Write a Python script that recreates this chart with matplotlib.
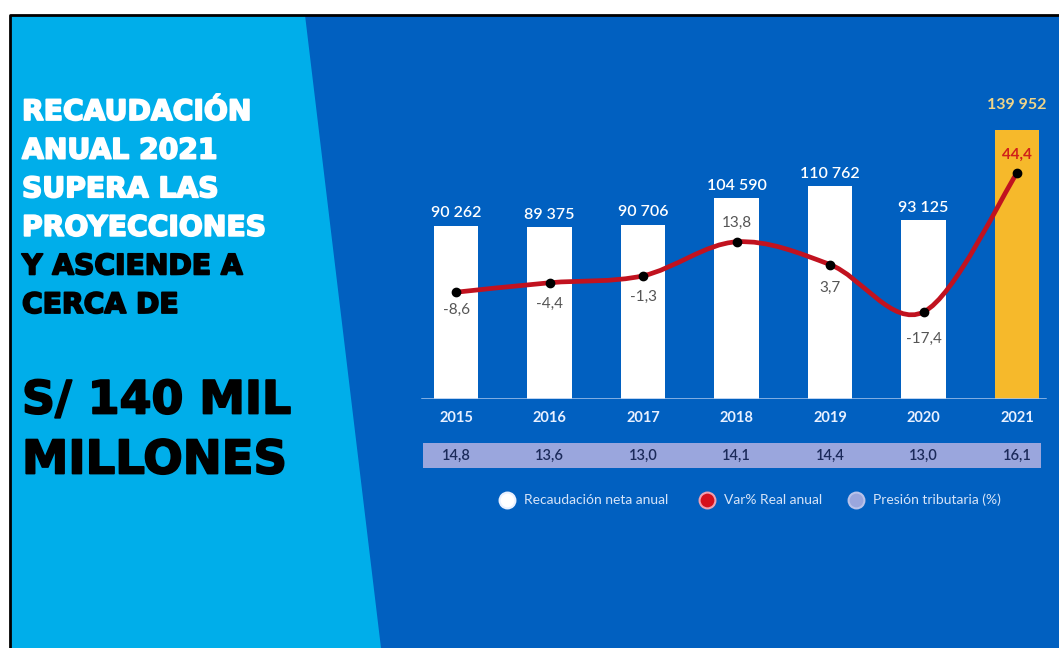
import numpy as np
import matplotlib
matplotlib.use('Agg')
import matplotlib.pyplot as plt
from matplotlib.patches import Polygon, Rectangle, PathPatch
from matplotlib.path import Path
import matplotlib.patheffects as pe
import matplotlib.transforms as mtransforms

# data
years = ['2015', '2016', '2017', '2018', '2019', '2020', '2021']
recaudacion = [90262, 89375, 90706, 104590, 110762, 93125, 139952]
var_real = [-8.6, -4.4, -1.3, 13.8, 3.7, -17.4, 44.4]
presion = [14.8, 13.6, 13.0, 14.1, 14.4, 13.0, 16.1]
legend_labels = ['Recaudación neta anual', 'Var% Real anual', 'Presión tributaria (%)']

def fmt_miles(v):
    return '{:,}'.format(v).replace(',', ' ')

def fmt_dec(v):
    return ('%.1f' % v).replace('.', ',')

DARK = '#0160c0'
LIGHT = '#00aeea'
YELLOW = '#f6b92b'
BAND = '#9aa6dd'
RED = '#c1121f'
FONT = 'Lato'
HEAD = 'DejaVu Sans'

W, H = 1059, 648
fig = plt.figure(figsize=(W / 100, H / 100), dpi=100)
fig.patch.set_facecolor('white')

# background layer in pixel coords (y down)
bg = fig.add_axes([0, 0, 1, 1], zorder=0)
bg.set_xlim(0, W)
bg.set_ylim(H, 0)
bg.axis('off')
bg.add_patch(Rectangle((10, 15), W, H, facecolor=DARK, edgecolor='none'))
bg.add_patch(Polygon([(10, 15), (305, 15), (381, H), (10, H)], closed=True,
                     facecolor=LIGHT, edgecolor='none'))
bg.plot([10, 10, W], [H, 15, 15], color='black', lw=2, solid_capstyle='butt')

# headline (stroke makes the bold look heavier)
def head(y, s, col, size):
    t = bg.text(22, y, s, color=col, fontsize=size, fontweight='bold',
                family=HEAD, va='center', ha='left')
    t.set_path_effects([pe.withStroke(linewidth=1.3, foreground=col)])

white_lines = ['RECAUDACIÓN', 'ANUAL 2021', 'SUPERA LAS', 'PROYECCIONES']
black_lines = ['Y ASCIENDE A', 'CERCA DE']
y = 112
for s in white_lines:
    head(y, s, 'white', 20.3)
    y += 38.6
for s in black_lines:
    head(y, s, 'black', 20.3)
    y += 38.6
head(401, 'S/ 140 MIL', 'black', 33)
head(461, 'MILLONES', 'black', 33.5)

# bar chart
ax = fig.add_axes([400 / W, (H - 399) / H, 659 / W, (399 - 60) / H], zorder=2)
ax.patch.set_alpha(0)
x = np.arange(len(years))
colors = ['white'] * (len(years) - 1) + [YELLOW]
ax.bar(x, recaudacion, width=0.48, color=colors, zorder=2)
ax.set_xlim(-0.599, 6.449)
ax.set_ylim(0, (399 - 60) / 0.00192)
ax.axis('off')
ax.axhline(0, xmin=0.033, xmax=0.979, color='#a8c6ee', lw=1.8, zorder=3)

for i, v in enumerate(recaudacion):
    last = i == len(years) - 1
    ax.annotate(fmt_miles(v), (x[i], v), xytext=(0, 18 if last else 9),
                textcoords='offset points', ha='center', va='center',
                color='#efd488' if last else 'white', fontsize=11.5,
                fontweight='bold' if last else 'semibold', family=FONT)

# var% line on a twin scale
ax2 = ax.twinx()
ax2.set_ylim(-56.08, 94.65)
ax2.axis('off')
pts = np.column_stack([x, var_real]).astype(float)
verts = [tuple(pts[0])]
codes = [Path.MOVETO]
for k in range(len(pts) - 1):
    p0 = pts[k - 1] if k > 0 else pts[k]
    p1, p2 = pts[k], pts[k + 1]
    p3 = pts[k + 2] if k + 2 < len(pts) else pts[k + 1]
    c1 = p1 + (p2 - p0) / 6.0
    c2 = p2 - (p3 - p1) / 6.0
    verts += [tuple(c1), tuple(c2), tuple(p2)]
    codes += [Path.CURVE4] * 3
ax2.add_patch(PathPatch(Path(verts, codes), facecolor='none', edgecolor=RED,
                        lw=3.4, zorder=4))
ax2.plot(x, var_real, 'o', color='black', ms=6, zorder=5)

lbl_off = [-13, -15, -15, 14, -17, -19, 13]
for i, v in enumerate(var_real):
    last = i == len(years) - 1
    ax2.annotate(fmt_dec(v), (x[i], v), xytext=(0, lbl_off[i]),
                 textcoords='offset points', ha='center', va='center',
                 color='#d0201a' if last else '#555555', fontsize=11,
                 fontweight='bold' if last else 'normal', family=FONT)

# year labels and tax-pressure band
tr = mtransforms.blended_transform_factory(ax.transData, bg.transData)
for i, yr in enumerate(years):
    ax.text(x[i], 418, yr, transform=tr, ha='center', va='center',
            color='#e8f0ff', fontsize=10.5, fontweight='bold', family=FONT)
bg.add_patch(Rectangle((423, 443), 1041 - 423, 25, facecolor=BAND,
                       edgecolor='none', zorder=1))
for i, p in enumerate(presion):
    ax.text(x[i], 456, fmt_dec(p), transform=tr, ha='center', va='center',
            color='#1b2a5a', fontsize=10.5, fontweight='semibold', family=FONT)

# legend
leg_x = [507, 707, 856]
leg_fc = ['white', '#d5101c', BAND]
leg_ec = ['#e8f0ff', '#f0a0b0', '#b8c2ea']
for lx, lab, fc, ec in zip(leg_x, legend_labels, leg_fc, leg_ec):
    bg.scatter([lx], [500], s=130, facecolor=fc, edgecolor=ec, linewidth=1.5,
               zorder=3)
    bg.text(lx + 17, 500, lab, color='#d6e4f8', fontsize=10,
            fontweight='normal', family=FONT, va='center', ha='left')

fig.savefig('out.png', dpi=100)
